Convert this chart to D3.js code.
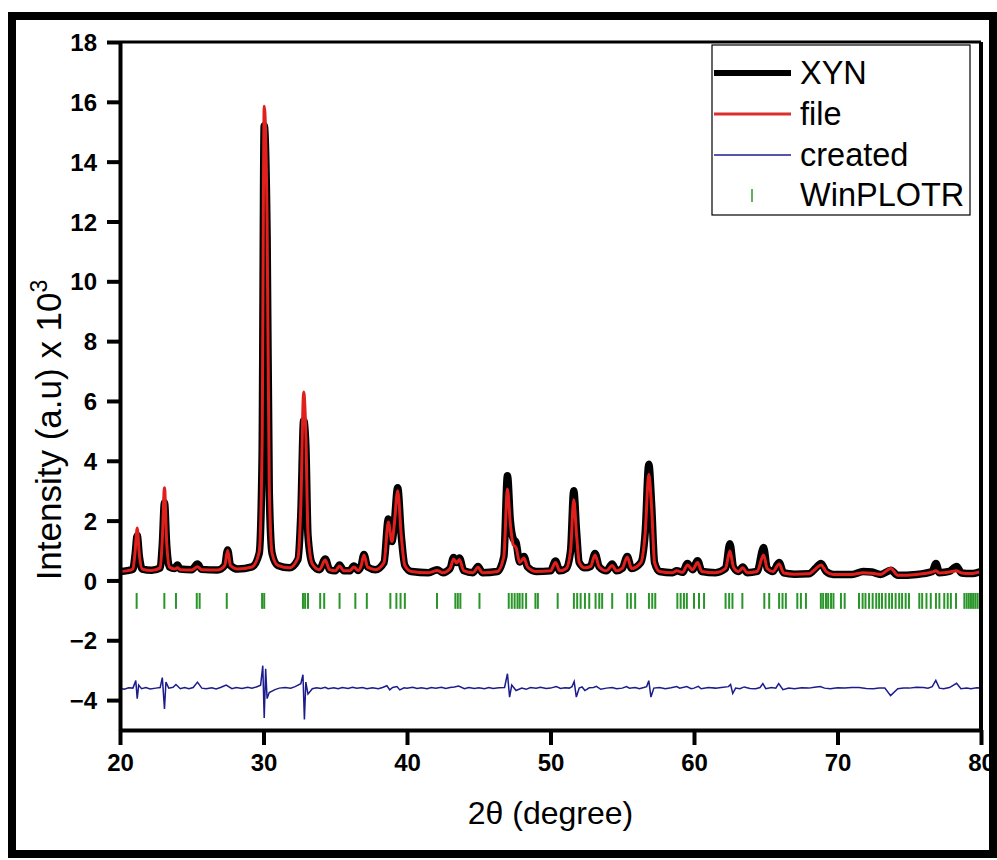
<!DOCTYPE html>
<html>
<head>
<meta charset="utf-8">
<script src="https://cdn.jsdelivr.net/npm/d3@7"></script>
<style>
  body { margin: 0; background: #fff; }
  svg text { font-family: "Liberation Sans", Arial, sans-serif; }
</style>
</head>
<body>
<div id="chart"></div>
<script>
// x tick labels and y tick labels
var xTicks = [20, 30, 40, 50, 60, 70, 80];
var yTicks = [-4, -2, 0, 2, 4, 6, 8, 10, 12, 14, 16, 18];

// legend entries
var legendNames = ["XYN", "file", "created", "WinPLOTR"];

// [2theta, observed, calculated]  (intensity x 10^3)
var profile = [
  [20.0, 0.30, 0.30], [20.5, 0.33, 0.32], [20.9, 0.38, 0.38], [21.05, 0.85, 0.95], [21.2, 1.5, 1.75],
  [21.35, 0.8, 0.85], [21.55, 0.38, 0.38], [22.2, 0.34, 0.33], [22.8, 0.42, 0.42], [22.95, 1.2, 1.4],
  [23.1, 2.6, 3.1], [23.25, 1.2, 1.3], [23.45, 0.45, 0.45], [23.8, 0.4, 0.38], [24.0, 0.52, 0.42],
  [24.2, 0.38, 0.36], [25.0, 0.36, 0.35], [25.4, 0.55, 0.46], [25.7, 0.37, 0.36], [26.8, 0.35, 0.35],
  [27.3, 0.5, 0.5], [27.5, 1.02, 1.0], [27.7, 0.5, 0.5], [28.2, 0.38, 0.38], [29.2, 0.45, 0.45],
  [29.7, 0.9, 0.95], [29.9, 4.0, 4.5], [30.05, 15.2, 15.85], [30.25, 11.5, 12.0], [30.4, 3.0, 3.2],
  [30.6, 0.9, 0.9], [31.0, 0.5, 0.5], [31.8, 0.42, 0.42], [32.4, 0.7, 0.75], [32.6, 2.2, 2.5],
  [32.8, 5.35, 6.3], [32.95, 4.5, 4.9], [33.1, 1.5, 1.6], [33.4, 0.55, 0.55], [33.9, 0.36, 0.36],
  [34.3, 0.72, 0.68], [34.6, 0.36, 0.36], [35.0, 0.32, 0.32], [35.3, 0.52, 0.48], [35.6, 0.32, 0.32],
  [36.0, 0.32, 0.32], [36.3, 0.48, 0.45], [36.6, 0.33, 0.33], [36.8, 0.48, 0.48], [37.0, 0.87, 0.85],
  [37.25, 0.45, 0.45], [37.8, 0.36, 0.36], [38.4, 0.6, 0.6], [38.7, 2.05, 1.95], [38.95, 1.3, 1.3],
  [39.1, 1.8, 1.8], [39.35, 3.1, 3.0], [39.6, 1.5, 1.5], [39.85, 0.5, 0.5], [40.3, 0.3, 0.3],
  [41.5, 0.26, 0.26], [42.1, 0.36, 0.33], [42.5, 0.26, 0.26], [43.0, 0.4, 0.4], [43.25, 0.77, 0.72],
  [43.45, 0.6, 0.58], [43.65, 0.75, 0.7], [43.95, 0.33, 0.33], [44.6, 0.26, 0.26], [44.95, 0.47, 0.44],
  [45.25, 0.26, 0.26], [46.3, 0.3, 0.3], [46.75, 0.8, 0.8], [47.0, 3.5, 3.05], [47.2, 2.0, 1.9],
  [47.4, 1.4, 1.2], [47.6, 1.27, 1.1], [47.85, 0.62, 0.6], [48.15, 0.8, 0.75], [48.4, 0.45, 0.45],
  [49.0, 0.3, 0.3], [50.0, 0.32, 0.32], [50.35, 0.65, 0.6], [50.65, 0.32, 0.32], [51.1, 0.4, 0.4],
  [51.4, 1.0, 1.0], [51.62, 3.0, 2.7], [51.82, 1.6, 1.5], [52.0, 0.6, 0.6], [52.4, 0.42, 0.42],
  [52.8, 0.47, 0.47], [53.1, 0.9, 0.85], [53.4, 0.45, 0.45], [53.9, 0.32, 0.32], [54.3, 0.55, 0.5],
  [54.6, 0.32, 0.32], [55.0, 0.4, 0.4], [55.35, 0.8, 0.78], [55.65, 0.4, 0.4], [56.3, 0.6, 0.6],
  [56.6, 1.6, 1.6], [56.85, 3.88, 3.55], [57.05, 2.5, 2.4], [57.25, 0.6, 0.6], [57.6, 0.3, 0.3],
  [58.5, 0.26, 0.26], [58.8, 0.32, 0.32], [59.2, 0.27, 0.27], [59.55, 0.57, 0.52], [59.9, 0.36, 0.36],
  [60.25, 0.66, 0.6], [60.55, 0.3, 0.3], [61.5, 0.26, 0.26], [62.2, 0.4, 0.4], [62.5, 1.23, 0.98],
  [62.75, 0.45, 0.45], [63.1, 0.3, 0.3], [63.4, 0.45, 0.42], [63.7, 0.26, 0.26], [64.4, 0.3, 0.3],
  [64.85, 1.1, 0.85], [65.1, 0.4, 0.4], [65.5, 0.3, 0.3], [65.93, 0.6, 0.55], [66.25, 0.25, 0.25],
  [67.0, 0.21, 0.21], [68.0, 0.22, 0.22], [68.5, 0.42, 0.4], [68.85, 0.57, 0.52], [69.2, 0.3, 0.3],
  [69.7, 0.2, 0.2], [71.0, 0.2, 0.2], [71.8, 0.3, 0.26], [72.4, 0.28, 0.24], [73.0, 0.2, 0.2],
  [73.72, 0.34, 0.4], [74.2, 0.17, 0.17], [75.5, 0.2, 0.2], [76.6, 0.3, 0.28], [76.86, 0.57, 0.32],
  [77.1, 0.26, 0.25], [77.8, 0.3, 0.28], [78.3, 0.47, 0.32], [78.65, 0.25, 0.25], [79.3, 0.23, 0.23],
  [80.0, 0.3, 0.3]
];

// difference curve [2theta, Iobs - Icalc - offset]
var difference = [
  [20.0, -3.6], [20.3, -3.64], [20.6, -3.59], [20.9, -3.6], [21.1, -3.35], [21.2, -3.95], [21.3, -3.5],
  [21.5, -3.62], [21.8, -3.58], [22.1, -3.63], [22.5, -3.6], [22.8, -3.58], [22.95, -3.25], [23.1, -4.3],
  [23.2, -3.4], [23.4, -3.6], [23.7, -3.57], [23.9, -3.48], [24.2, -3.62], [24.5, -3.58], [24.8, -3.62],
  [25.1, -3.58], [25.4, -3.4], [25.7, -3.6], [26.0, -3.62], [26.4, -3.59], [26.7, -3.63], [27.0, -3.58],
  [27.4, -3.5], [27.8, -3.62], [28.1, -3.58], [28.5, -3.61], [28.9, -3.57], [29.2, -3.6], [29.5, -3.56],
  [29.8, -3.5], [29.95, -2.85], [30.05, -4.6], [30.15, -2.95], [30.25, -3.95], [30.4, -3.75], [30.8, -3.65],
  [31.1, -3.6], [31.5, -3.58], [31.9, -3.6], [32.2, -3.55], [32.6, -3.45], [32.75, -3.15], [32.85, -4.65],
  [32.95, -3.4], [33.1, -3.8], [33.4, -3.62], [33.7, -3.59], [34.0, -3.61], [34.3, -3.57], [34.5, -3.62],
  [34.9, -3.59], [35.2, -3.62], [35.5, -3.58], [35.9, -3.61], [36.2, -3.57], [36.5, -3.6], [36.9, -3.58],
  [37.2, -3.62], [37.6, -3.59], [38.0, -3.62], [38.3, -3.58], [38.6, -3.52], [38.8, -3.66], [39.0, -3.58],
  [39.3, -3.55], [39.5, -3.66], [39.8, -3.59], [40.0, -3.6], [40.4, -3.57], [40.7, -3.61], [41.0, -3.59],
  [41.4, -3.62], [41.7, -3.58], [42.0, -3.6], [42.4, -3.57], [42.7, -3.61], [43.0, -3.58], [43.3, -3.56],
  [43.6, -3.53], [44.0, -3.62], [44.3, -3.58], [44.7, -3.61], [45.0, -3.59], [45.4, -3.62], [45.7, -3.58],
  [46.0, -3.61], [46.4, -3.59], [46.8, -3.58], [47.0, -3.12], [47.15, -3.9], [47.3, -3.5], [47.6, -3.68],
  [48.0, -3.6], [48.3, -3.64], [48.6, -3.58], [49.0, -3.6], [49.3, -3.57], [49.7, -3.61], [50.0, -3.6],
  [50.4, -3.55], [50.7, -3.61], [51.0, -3.59], [51.3, -3.6], [51.5, -3.55], [51.65, -3.38], [51.8, -3.9],
  [52.0, -3.6], [52.2, -3.56], [52.4, -3.68], [52.7, -3.59], [53.0, -3.58], [53.2, -3.54], [53.5, -3.64],
  [53.9, -3.6], [54.3, -3.58], [54.6, -3.62], [55.0, -3.6], [55.3, -3.55], [55.5, -3.6], [55.9, -3.58],
  [56.2, -3.62], [56.5, -3.58], [56.7, -3.55], [56.85, -3.35], [57.0, -3.9], [57.2, -3.6], [57.6, -3.58],
  [58.0, -3.62], [58.4, -3.59], [58.8, -3.55], [59.0, -3.6], [59.5, -3.55], [59.8, -3.62], [60.0, -3.6],
  [60.3, -3.54], [60.5, -3.62], [61.0, -3.58], [61.5, -3.6], [61.9, -3.58], [62.4, -3.55], [62.55, -3.48],
  [62.7, -3.78], [62.9, -3.6], [63.2, -3.62], [63.5, -3.56], [63.9, -3.61], [64.3, -3.62], [64.6, -3.58],
  [64.8, -3.45], [65.0, -3.62], [65.4, -3.58], [65.7, -3.6], [65.9, -3.45], [66.2, -3.65], [66.6, -3.6],
  [67.0, -3.62], [67.5, -3.59], [68.0, -3.6], [68.4, -3.57], [68.8, -3.55], [69.1, -3.6], [69.5, -3.62],
  [70.0, -3.59], [70.5, -3.6], [71.0, -3.58], [71.5, -3.58], [72.0, -3.61], [72.5, -3.62], [72.9, -3.6],
  [73.3, -3.6], [73.7, -3.85], [74.2, -3.62], [74.6, -3.6], [75.0, -3.6], [75.5, -3.57], [76.0, -3.58],
  [76.3, -3.6], [76.6, -3.55], [76.85, -3.34], [77.1, -3.6], [77.4, -3.62], [77.8, -3.58], [78.3, -3.44],
  [78.6, -3.62], [79.0, -3.6], [79.3, -3.62], [79.7, -3.59], [80.0, -3.6]
];

// Bragg reflection positions (2theta)
var braggPos = [
  21.16, 23.09, 23.9, 25.35, 25.55, 27.44, 29.9, 30.05, 32.75, 32.9, 33.1, 33.95, 34.23, 35.3, 36.4,
  37.2, 38.84, 39.26, 39.55, 39.85, 42.09, 43.37, 43.54, 43.72, 45.05, 47.09, 47.3, 47.5, 47.7, 47.85,
  48.05, 48.3, 48.95, 49.12, 50.5, 51.63, 51.86, 52.1, 52.4, 52.7, 53.14, 53.4, 53.6, 54.3, 55.35,
  55.6, 55.9, 56.86, 57.09, 57.3, 58.84, 59.07, 59.3, 59.5, 60.0, 60.35, 60.7, 62.2, 62.45, 62.68,
  63.37, 64.9, 65.24, 65.93, 66.17, 66.4, 67.2, 67.45, 67.8, 68.84, 69.0, 69.2, 69.35, 69.55, 69.72,
  70.24, 70.5, 71.5, 71.75, 71.95, 72.2, 72.45, 72.7, 72.9, 73.1, 73.35, 73.6, 73.8, 74.05, 74.3,
  74.5, 74.75, 74.98, 75.7, 75.9, 76.2, 76.5, 76.86, 77.1, 77.44, 77.68, 77.9, 78.26, 78.84, 79.0,
  79.15, 79.3, 79.45, 79.6, 79.75, 79.9
];

var width = 997, height = 860;
var margin = { left: 120, right: 16, top: 42, bottom: 130 };

const svg = d3.select("#chart")
  .append("svg")
  .attr("width", width)
  .attr("height", height);

// outer frame
svg.append("rect")
  .attr("x", 12).attr("y", 16)
  .attr("width", 981).attr("height", 838)
  .attr("fill", "none")
  .attr("stroke", "#000")
  .attr("stroke-width", 8);

var x = d3.scaleLinear().domain([20, 80]).range([margin.left, width - margin.right]);
var y = d3.scaleLinear().domain([-5, 18]).range([height - margin.bottom, margin.top]);

// clip
svg.append("clipPath").attr("id", "plotclip")
  .append("rect")
  .attr("x", x(20)).attr("y", y(18))
  .attr("width", x(80) - x(20)).attr("height", y(-5) - y(18));

var plot = svg.append("g").attr("clip-path", "url(#plotclip)");

var line = d3.line().x(d => x(d[0])).curve(d3.curveMonotoneX);

// observed
plot.append("path")
  .datum(profile)
  .attr("d", line.y(d => y(d[1])))
  .attr("fill", "none")
  .attr("stroke", "#000")
  .attr("stroke-width", 7.5)
  .attr("stroke-linejoin", "round");

// calculated
plot.append("path")
  .datum(profile)
  .attr("d", line.y(d => y(d[2])))
  .attr("fill", "none")
  .attr("stroke", "#e0201c")
  .attr("stroke-width", 3)
  .attr("stroke-linejoin", "round");

// bragg ticks
plot.selectAll(".bragg")
  .data(braggPos)
  .enter().append("line")
  .attr("x1", d => x(d)).attr("x2", d => x(d))
  .attr("y1", y(-0.42)).attr("y2", y(-0.95))
  .attr("stroke", "#2a962a")
  .attr("stroke-width", 2);

// difference
plot.append("path")
  .datum(difference)
  .attr("d", d3.line().x(d => x(d[0])).y(d => y(d[1])))
  .attr("fill", "none")
  .attr("stroke", "#1c1c8c")
  .attr("stroke-width", 1.5);

// axes
var xAxis = svg.append("g")
  .attr("transform", `translate(0,${y(-5)})`)
  .call(d3.axisBottom(x).tickValues(xTicks).tickSize(15).tickPadding(9).tickSizeOuter(0));

var yAxis = svg.append("g")
  .attr("transform", `translate(${x(20)},0)`)
  .call(d3.axisLeft(y).tickValues(yTicks).tickSize(13).tickPadding(10).tickSizeOuter(0));

[xAxis, yAxis].forEach(g => {
  g.select(".domain").attr("stroke", "#000").attr("stroke-width", 4);
  g.selectAll(".tick line").attr("stroke", "#000").attr("stroke-width", 4);
  g.selectAll(".tick text")
    .attr("fill", "#000")
    .style("font-size", "24px")
    .style("font-weight", "bold")
    .style("font-family", "'Liberation Sans', Arial, sans-serif");
});
yAxis.selectAll(".tick text").attr("dy", "0.36em");

// top and right border
svg.append("line")
  .attr("x1", x(20)).attr("x2", x(80))
  .attr("y1", y(18)).attr("y2", y(18))
  .attr("stroke", "#000").attr("stroke-width", 3);
svg.append("line")
  .attr("x1", x(80)).attr("x2", x(80))
  .attr("y1", y(18)).attr("y2", y(-5))
  .attr("stroke", "#000").attr("stroke-width", 4);

// axis titles
svg.append("text")
  .attr("x", x(50)).attr("y", 824)
  .attr("text-anchor", "middle")
  .style("font-size", "32px")
  .text("2\u03b8 (degree)");

var ytitle = svg.append("text")
  .attr("transform", `translate(61,430) rotate(-90)`)
  .attr("text-anchor", "middle")
  .style("font-size", "35px");
ytitle.append("tspan").text("Intensity (a.u) x 10");
ytitle.append("tspan").attr("dy", -14).style("font-size", "23px").text("3");

// legend
var lg = svg.append("g");
lg.append("rect")
  .attr("x", 712).attr("y", 45)
  .attr("width", 258).attr("height", 170)
  .attr("fill", "#fff")
  .attr("stroke", "#000")
  .attr("stroke-width", 1.2);

var legendY = [73, 114, 155, 195];
var legendStroke = [
  { color: "#000", w: 6 },
  { color: "#d9302c", w: 3 },
  { color: "#1c1c8c", w: 1.5 }
];
legendNames.forEach((name, i) => {
  if (i < 3) {
    lg.append("line")
      .attr("x1", 714).attr("x2", 791)
      .attr("y1", legendY[i]).attr("y2", legendY[i])
      .attr("stroke", legendStroke[i].color)
      .attr("stroke-width", legendStroke[i].w);
  } else {
    lg.append("line")
      .attr("x1", 752).attr("x2", 752)
      .attr("y1", legendY[i] - 6).attr("y2", legendY[i] + 7)
      .attr("stroke", "#2a962a")
      .attr("stroke-width", 1.5);
  }
  lg.append("text")
    .attr("x", 800).attr("y", legendY[i] + 11)
    .style("font-size", "32.5px")
    .text(name);
});
</script>
</body>
</html>
